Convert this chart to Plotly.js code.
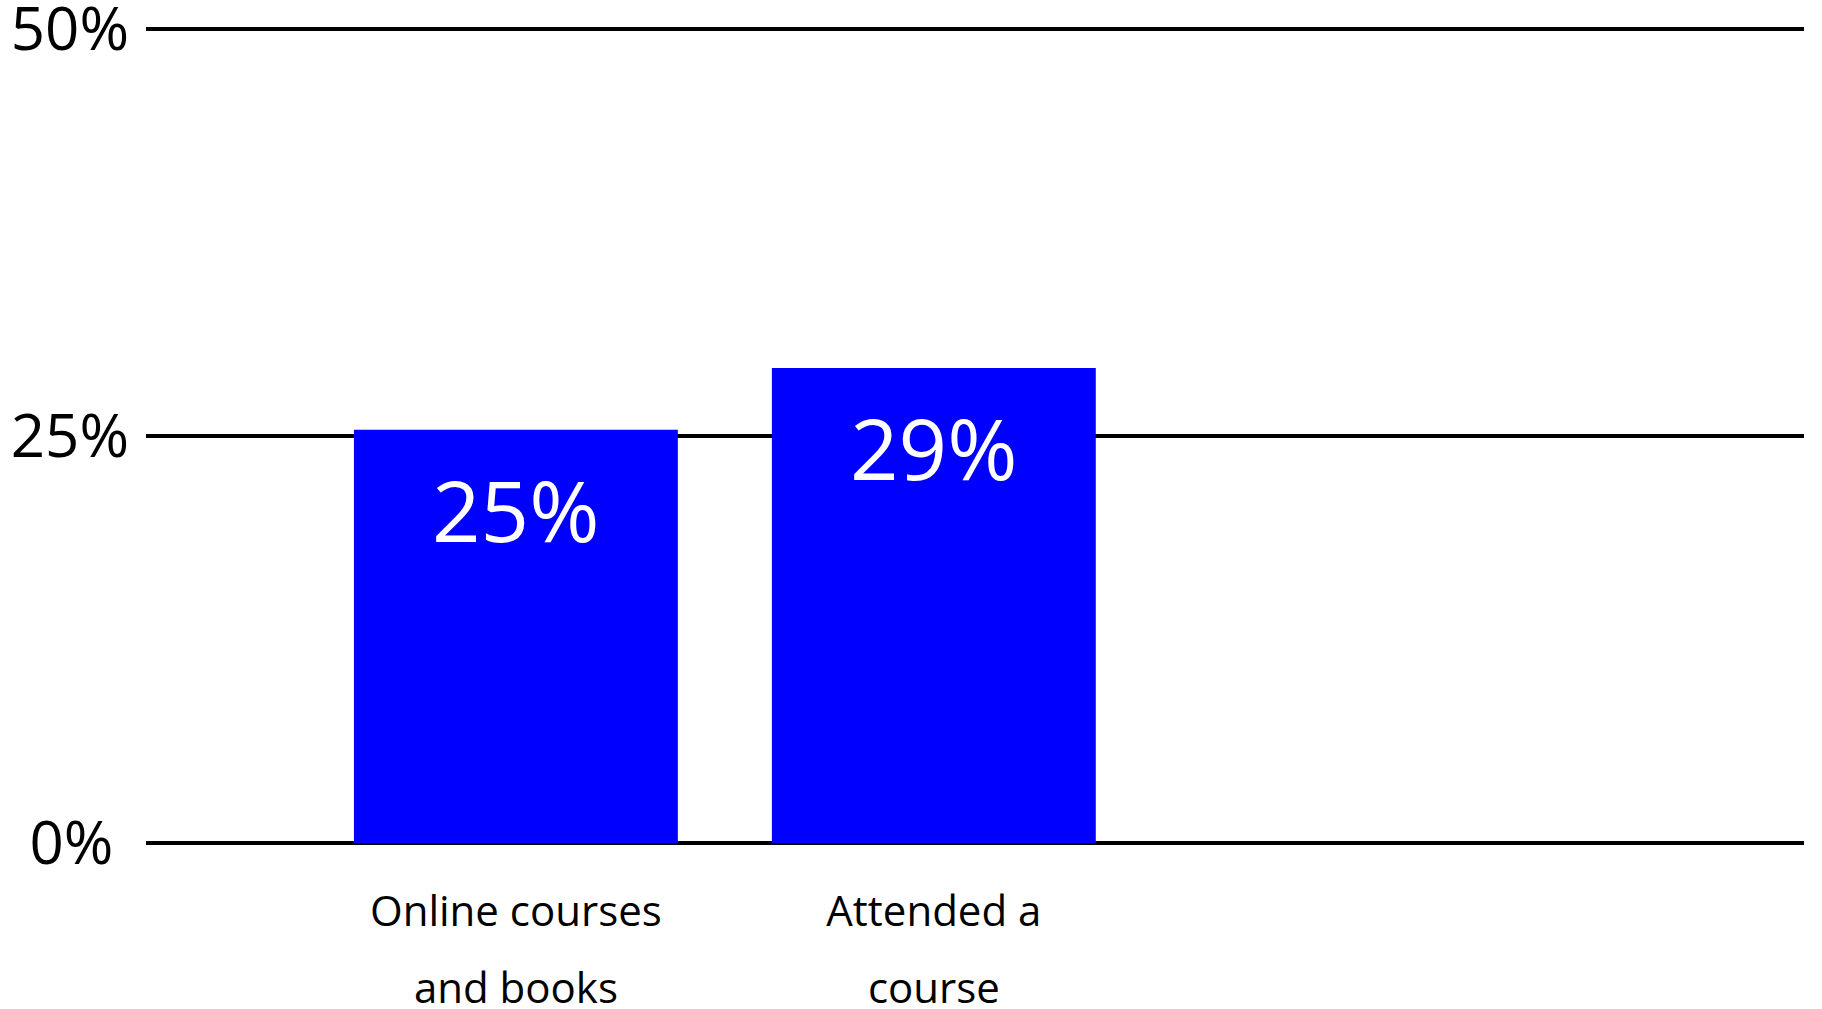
<!DOCTYPE html>
<html>
<head>
<meta charset="utf-8">
<script src="https://cdn.plot.ly/plotly-3.0.1.min.js"></script>
<style>html,body{margin:0;padding:0;background:#fff;}#chart{width:1822px;height:1009px;}</style>
</head>
<body>
<div id="chart"></div>
<script>
const categories = ["Online courses<br>and books", "Attended a<br>course"];
const values = [25.4, 29.2];
const yTickVals = [0, 25, 50];
const yTickText = ["0%\u00a0", "25%", "50%"];

const FONT = "Open Sans, Noto Sans, sans-serif";

// tick labels: small glyphs on a larger base font for wider line spacing
const xTickText = categories.map(c =>
  c.split("<br>").map(s => '<span style="font-size:42px">' + s + '</span>').join("<br>"));

const trace = {
  type: "bar",
  x: categories,
  y: values,
  marker: {color: "#0000ff", line: {width: 0}},
  hoverinfo: "skip"
};

const annotations = categories.map((c, i) => ({
  x: c, y: values[i], xref: "x", yref: "y",
  text: Math.round(values[i]) + "%",
  showarrow: false,
  yanchor: "middle",
  yshift: -79,
  font: {family: FONT, size: 85, color: "#ffffff"}
}));

const layout = {
  width: 1822, height: 1009,
  margin: {l: 146, r: 18, t: 27, b: 166},
  paper_bgcolor: "#ffffff",
  plot_bgcolor: "#ffffff",
  showlegend: false,
  bargap: 0.225,
  xaxis: {
    type: "category",
    range: [-0.885, 3.082],
    tickvals: categories,
    ticktext: xTickText,
    showgrid: false, zeroline: false, showline: false,
    ticks: "",
    tickfont: {family: FONT, size: 59, color: "#000000"},
    ticklabelstandoff: 23,
    ticklabeloverflow: "allow"
  },
  yaxis: {
    range: [0, 50.15],
    tickvals: yTickVals,
    ticktext: yTickText,
    showgrid: true, gridcolor: "#000000", gridwidth: 4,
    zeroline: true, zerolinecolor: "#000000", zerolinewidth: 4,
    showline: false, ticks: "",
    tickfont: {family: FONT, size: 60, color: "#000000"},
    ticklabelstandoff: 16,
    ticklabeloverflow: "allow"
  },
  annotations: annotations
};

Plotly.newPlot("chart", [trace], layout, {staticPlot: true, displayModeBar: false});
</script>
</body>
</html>
